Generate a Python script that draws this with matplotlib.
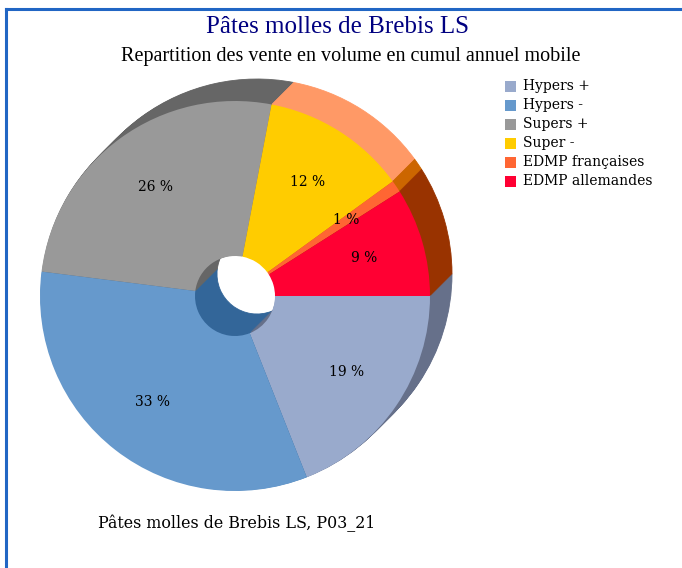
import matplotlib
matplotlib.use("Agg")
import matplotlib.pyplot as plt
import numpy as np
from matplotlib.patches import Rectangle
from matplotlib.lines import Line2D

# Sales split by channel (share of volume, %)
categories = ["Hypers +", "Hypers -", "Supers +", "Super -",
              "EDMP françaises", "EDMP allemandes"]
shares = [19, 33, 26, 12, 1, 9]
face_colors = ["#99AACC", "#6699CC", "#999999", "#FFCC00", "#FF6633", "#FF0033"]
depth_colors = ["#66708A", "#336699", "#666666", "#FF9966", "#CC6600", "#993300"]

title = "Pâtes molles de Brebis LS"
subtitle = "Repartition des vente en volume en cumul annuel mobile"
footnote = "Pâtes molles de Brebis LS, P03_21"

W, H = 682, 568
fig = plt.figure(figsize=(W / 100, H / 100), dpi=100)
ax = fig.add_axes([0, 0, 1, 1])

R = 195
hole = 40
cx, cy = 235, H - 296
depth = 22

# extrusion: stacked copies from the back layer to the front
for k in range(depth, 0, -1):
    ax.pie(shares, colors=depth_colors, startangle=0, counterclock=False,
           center=(cx + k, cy + k), radius=R,
           wedgeprops=dict(width=R - hole, linewidth=0.6, edgecolor=None))
    for w, c in zip(ax.patches[-len(shares):], depth_colors):
        w.set_edgecolor(c)

# front face with value labels
wedges, texts, autotexts = ax.pie(
    shares, colors=face_colors, startangle=0, counterclock=False,
    center=(cx, cy), radius=R,
    wedgeprops=dict(width=R - hole, linewidth=0),
    autopct=lambda p: f"{p:.0f} %",
    textprops=dict(family="DejaVu Serif", fontsize=10, color="black"))
start = 0.0
for v, t in zip(shares, autotexts):
    mid = np.deg2rad(start - v * 3.6 / 2)
    start -= v * 3.6
    t.set_position((cx + 0.69 * R * np.cos(mid), cy + 0.69 * R * np.sin(mid)))
    t.set_ha("center")
    t.set_va("center")

ax.set_xlim(0, W)
ax.set_ylim(0, H)
ax.set_aspect("equal")
ax.axis("off")

# titles
ax.text(338, H - 27, title, ha="center", va="center", color="#000080",
        family="Liberation Serif", fontsize=18)
ax.text(351, H - 56, subtitle, ha="center", va="center", color="black",
        family="Liberation Serif", fontsize=14.5)

# legend
ly0, ldy = 86, 19
for i, (name, col) in enumerate(zip(categories, face_colors)):
    y = H - (ly0 + i * ldy)
    ax.add_patch(Rectangle((505, y - 5.5), 11, 11, facecolor=col, edgecolor="none"))
    ax.text(523, y, name, ha="left", va="center", family="DejaVu Serif",
            fontsize=10, color="black")

ax.text(98, H - 523, footnote, ha="left", va="center", family="DejaVu Serif",
        fontsize=11.4, color="black")

# page frame (left and top edges)
fig.add_artist(Line2D([5.5 / W, 5.5 / W], [0, 1 - 8.5 / H], transform=fig.transFigure,
                      color="#2166C4", lw=2.2))
fig.add_artist(Line2D([5.5 / W, 1], [1 - 8.5 / H, 1 - 8.5 / H], transform=fig.transFigure,
                      color="#2166C4", lw=2.2))

fig.savefig("out.png", dpi=100)
